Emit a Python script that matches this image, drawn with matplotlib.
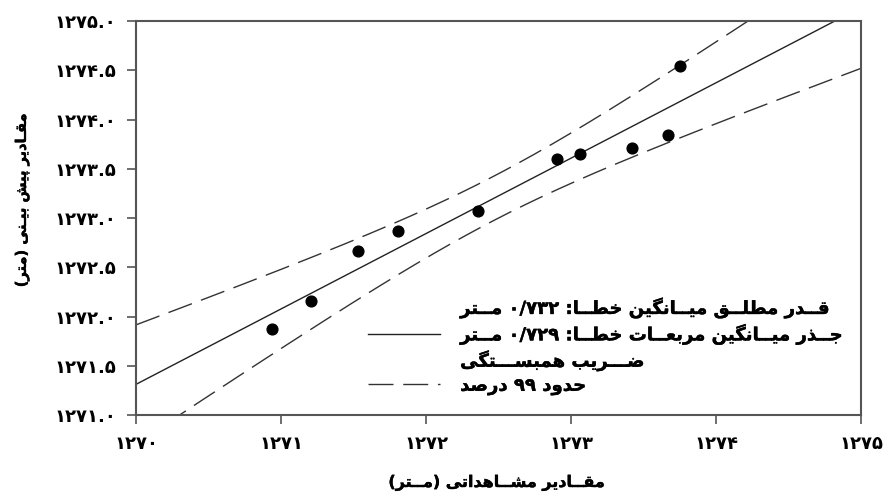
import numpy as np
import matplotlib
matplotlib.use("Agg")
import matplotlib.pyplot as plt
import matplotlib.patheffects as pe
from matplotlib.ticker import FuncFormatter, MultipleLocator
from matplotlib.lines import Line2D

# observed vs predicted levels (m)
observed = [1270.94, 1271.21, 1271.53, 1271.81, 1272.36, 1272.90, 1273.06, 1273.42, 1273.67, 1273.75]
predicted = [1271.87, 1272.16, 1272.67, 1272.87, 1273.07, 1273.60, 1273.65, 1273.71, 1273.84, 1274.54]
t99 = 3.355  # t(0.995, n-2)

xlabel = "مقــادیر مشــاهداتی (مــتر)"
ylabel = "مقـادیر پیش بیـنی (متر)"
legend_labels = [
    "قــدر مطلــق میــانگین خطــا: ۰/۷۳۲ مــتر",
    "جــذر میــانگین مربعــات خطــا: ۰/۷۲۹ مــتر",
    "ضـــریب همبســـتگی",
    "حدود ۹۹ درصد",
]

# minimal arabic shaping: (isolated, final, initial, medial)
FORMS = {
    'ا': (0xFE8D, 0xFE8E), 'د': (0xFEA9, 0xFEAA), 'ذ': (0xFEAB, 0xFEAC),
    'ر': (0xFEAD, 0xFEAE), 'و': (0xFEED, 0xFEEE),
    'ب': (0xFE8F, 0xFE90, 0xFE91, 0xFE92), 'پ': (0xFB56, 0xFB57, 0xFB58, 0xFB59),
    'ت': (0xFE95, 0xFE96, 0xFE97, 0xFE98), 'ج': (0xFE9D, 0xFE9E, 0xFE9F, 0xFEA0),
    'ح': (0xFEA1, 0xFEA2, 0xFEA3, 0xFEA4), 'خ': (0xFEA5, 0xFEA6, 0xFEA7, 0xFEA8),
    'س': (0xFEB1, 0xFEB2, 0xFEB3, 0xFEB4), 'ش': (0xFEB5, 0xFEB6, 0xFEB7, 0xFEB8),
    'ص': (0xFEB9, 0xFEBA, 0xFEBB, 0xFEBC), 'ض': (0xFEBD, 0xFEBE, 0xFEBF, 0xFEC0),
    'ط': (0xFEC1, 0xFEC2, 0xFEC3, 0xFEC4), 'ع': (0xFEC9, 0xFECA, 0xFECB, 0xFECC),
    'ق': (0xFED5, 0xFED6, 0xFED7, 0xFED8), 'ک': (0xFB8E, 0xFB8F, 0xFB90, 0xFB91),
    'گ': (0xFB92, 0xFB93, 0xFB94, 0xFB95), 'ل': (0xFEDD, 0xFEDE, 0xFEDF, 0xFEE0),
    'م': (0xFEE1, 0xFEE2, 0xFEE3, 0xFEE4), 'ن': (0xFEE5, 0xFEE6, 0xFEE7, 0xFEE8),
    'ه': (0xFEE9, 0xFEEA, 0xFEEB, 0xFEEC), 'ی': (0xFBFC, 0xFBFD, 0xFBFE, 0xFBFF),
}
TATWEEL = 'ـ'


def joins_next(c):
    return c == TATWEEL or (c in FORMS and len(FORMS[c]) == 4)


def joinable(c):
    return c == TATWEEL or c in FORMS


def shape(s):
    out = []
    for i, c in enumerate(s):
        if c not in FORMS:
            out.append(c)
            continue
        f = FORMS[c]
        p = i > 0 and joins_next(s[i - 1])
        n = len(f) == 4 and i + 1 < len(s) and joinable(s[i + 1])
        if p and n:
            out.append(chr(f[3]))
        elif p:
            out.append(chr(f[1]))
        elif n:
            out.append(chr(f[2]))
        else:
            out.append(chr(f[0]))
    return ''.join(out)


def rtl(s):
    s = shape(s)
    num = set('۰۱۲۳۴۵۶۷۸۹0123456789/.')
    tokens, cur, isnum = [], '', None
    for c in s:
        k = c in num
        if cur and k != isnum:
            tokens.append((cur, isnum))
            cur = ''
        cur += c
        isnum = k
    if cur:
        tokens.append((cur, isnum))
    mirror = {'(': ')', ')': '('}
    res = ''
    for tok, k in reversed(tokens):
        res += tok if k else ''.join(mirror.get(c, c) for c in reversed(tok))
    return res


def fa_digits(v, fmt):
    return (fmt % v).translate(str.maketrans('0123456789', '۰۱۲۳۴۵۶۷۸۹'))


plt.rcParams['font.family'] = ['DejaVu Sans']
plt.rcParams['font.weight'] = 'bold'
heavy = [pe.withStroke(linewidth=0.3, foreground='black')]

fig = plt.figure(figsize=(8.85, 4.97), dpi=100)
ax = fig.add_axes([0.1537, 0.165, 0.8192, 0.7927])

x = np.array(observed)
y = np.array(predicted)
n = len(x)
b, a = np.polyfit(x, y, 1)
resid = y - (a + b * x)
s = np.sqrt(np.sum(resid ** 2) / (n - 2))
sxx = np.sum((x - x.mean()) ** 2)
xx = np.linspace(1270, 1275, 200)
yy = a + b * xx
half = t99 * s * np.sqrt(1.0 / n + (xx - x.mean()) ** 2 / sxx)

ax.plot(xx, yy, color='#222222', lw=1.0)
ax.plot(xx, yy + half, color='#333333', lw=1.0, dashes=(18, 7))
ax.plot(xx, yy - half, color='#333333', lw=1.0, dashes=(18, 7))
ax.scatter(x, y, s=60, color='black', zorder=3)

ax.set_xlim(1270, 1275)
ax.set_ylim(1271, 1275)
ax.xaxis.set_major_locator(MultipleLocator(1))
ax.yaxis.set_major_locator(MultipleLocator(0.5))
ax.xaxis.set_major_formatter(FuncFormatter(lambda v, p: fa_digits(v, '%d')))
ax.yaxis.set_major_formatter(FuncFormatter(lambda v, p: fa_digits(v, '%.1f')))
ax.tick_params(direction='out', length=6.5, width=1.2, color='#555555', labelsize=13, pad=8)
for sp in ax.spines.values():
    sp.set_color('#555555')
    sp.set_linewidth(1.5)

fig.text(497 / 885, 1 - 483 / 497, rtl(xlabel), fontsize=11.5, ha='center', va='center',
         path_effects=heavy)
fig.text(22 / 885, 1 - 200 / 497, rtl(ylabel), fontsize=10.5, ha='center', va='center',
         rotation=90, path_effects=heavy)

handles = [
    Line2D([], [], color='none'),
    Line2D([], [], color='#222222', lw=1.0),
    Line2D([], [], color='none'),
    Line2D([], [], color='#333333', lw=1.0, dashes=(18, 7)),
]
leg = ax.legend(handles, [rtl(t) for t in legend_labels], loc='upper left',
                bbox_to_anchor=(0.32, 0.298), frameon=False, fontsize=13,
                borderpad=0, borderaxespad=0,
                handlelength=4.0, handletextpad=1.1, labelspacing=0.32)
for t in leg.get_texts():
    t.set_path_effects(heavy)

fig.savefig('out.png', dpi=100)
